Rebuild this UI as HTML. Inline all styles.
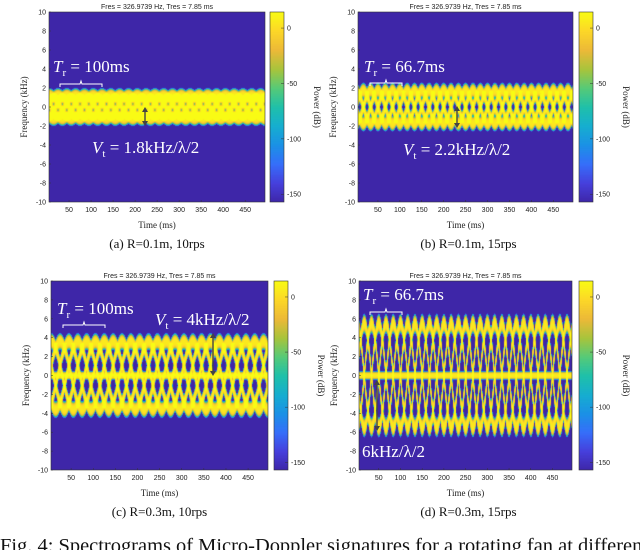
<!DOCTYPE html>
<html><head><meta charset="utf-8">
<style>
html,body{margin:0;padding:0;background:#fff;width:640px;height:550px;overflow:hidden;position:relative}
canvas{position:absolute;z-index:1}
svg{position:absolute;left:0;top:0;z-index:2}
.tk{font:7px "Liberation Sans",sans-serif;fill:#222}
.ax{font:9px "Liberation Serif",serif;fill:#222}
.cap{font:13px "Liberation Serif",serif;fill:#111}
.ann{font:17px "Liberation Serif",serif;fill:#fff}
</style></head>
<body>
<div id="root"></div>
<svg id="ov" width="640" height="550"></svg>
<script>
// data per panel
const panelIds = ['a','b','c','d'];
const periodsMs = [100, 66.7, 100, 66.7];
const maxDopplerKHz = [1.25, 1.75, 3.6, 5.5];
const bladeCount = [5, 4, 5, 4];
const traceWidthKHz = [0.5, 0.55, 0.6, 0.7];
const hubLine = [false, false, true, true];
const captions = ['(a) R=0.1m, 10rps','(b) R=0.1m, 15rps','(c) R=0.3m, 10rps','(d) R=0.3m, 15rps'];
const yTicks = [-10,-8,-6,-4,-2,0,2,4,6,8,10];
const xTicks = [50,100,150,200,250,300,350,400,450];
const cbTicks = [0,-50,-100,-150];
const timeDomain = [4.5, 495];
const freqDomain = [-10, 10];
const dbDomain = [-157, 14.5];

const boxes = [
 {x:49,y:12,w:216,h:190,cb:270},
 {x:358,y:12,w:215,h:190,cb:579},
 {x:51,y:281,w:217,h:189,cb:274},
 {x:359,y:281,w:213,h:189,cb:579}
];
const parula = [[62,38,168],[70,64,220],[54,110,250],[27,145,230],[22,174,208],[31,192,170],[86,202,120],[168,196,60],[236,185,56],[252,215,40],[249,251,20]];
function cmap(v){v=Math.max(0,Math.min(1,v));const p=v*(parula.length-1);const i=Math.min(parula.length-2,Math.floor(p));const f=p-i;
 return parula[i].map((c,k)=>Math.round(c+(parula[i+1][k]-c)*f));}

const NS='http://www.w3.org/2000/svg';
const ov=document.getElementById('ov');
function el(tag,attrs,txt,parent){const e=document.createElementNS(NS,tag);for(const k in attrs)e.setAttribute(k,attrs[k]);if(txt!=null)e.textContent=txt;(parent||ov).appendChild(e);return e;}

panelIds.forEach((pid,pi)=>{
 const b=boxes[pi];
 const sx=t=>b.x+(t-timeDomain[0])/(timeDomain[1]-timeDomain[0])*b.w;
 const sy=f=>b.y+b.h-(f-freqDomain[0])/(freqDomain[1]-freqDomain[0])*b.h;
 const cv=document.createElement('canvas');cv.width=b.w;cv.height=b.h;cv.style.left=b.x+'px';cv.style.top=b.y+'px';
 
 
 document.body.appendChild(cv);
 const ctx=cv.getContext('2d');const img=ctx.createImageData(b.w,b.h);
 const A=maxDopplerKHz[pi],T=periodsMs[pi],N=bladeCount[pi],s=traceWidthKHz[pi];
 for(let px=0;px<b.w;px++){
  const t=timeDomain[0]+(px+0.5)/b.w*(timeDomain[1]-timeDomain[0]);
  const fs=[];for(let k=0;k<N;k++)fs.push(A*Math.sin(2*Math.PI*t/T+2*Math.PI*k/N));
  for(let py=0;py<b.h;py++){
   const f=freqDomain[1]-(py+0.5)/b.h*(freqDomain[1]-freqDomain[0]);
   let sum=0;
   fs.forEach(fk=>{const d=(f-fk)/s;sum+=Math.exp(-d*d*d*d);});
   if(hubLine[pi]){const d=f/0.3;sum+=Math.exp(-d*d*d*d);}
   let v;
   if(sum<1e-6)v=0;else v=Math.max(0,1+Math.log10(sum)/2.5);
   v=Math.min(1,v*0.95+(sum>1?0.05:0));
   const c=cmap(v);const o=(py*b.w+px)*4;
   img.data[o]=c[0];img.data[o+1]=c[1];img.data[o+2]=c[2];img.data[o+3]=255;
  }
 }
 ctx.putImageData(img,0,0);
 const cb=document.createElement('canvas');cb.width=14;cb.height=b.h;cb.style.left=b.cb+'px';cb.style.top=b.y+'px';
 
 
 document.body.appendChild(cb);
 const c2=cb.getContext('2d');for(let y=0;y<b.h;y++){const c=cmap(1-y/b.h);c2.fillStyle='rgb('+c+')';c2.fillRect(0,y,14,1);}
 const g=el('g',{});
 
 
 el('rect',{x:b.x,y:b.y,width:b.w,height:b.h,fill:'none',stroke:'#333','stroke-width':0.6},null,g);
 el('rect',{x:b.cb,y:b.y,width:14,height:b.h,fill:'none',stroke:'#333','stroke-width':0.6},null,g);
 const cy=db=>b.y+(dbDomain[1]-db)/(dbDomain[1]-dbDomain[0])*b.h;
 cbTicks.forEach(v=>{el('line',{x1:b.cb+11,x2:b.cb+14,y1:cy(v),y2:cy(v),stroke:'#333','stroke-width':0.5},null,g);
  el('text',{x:b.cb+17,y:cy(v)+2.5,class:'tk'},String(v),g);});
 yTicks.forEach(v=>{el('line',{x1:b.x,x2:b.x+2,y1:sy(v),y2:sy(v),stroke:'#333','stroke-width':0.5},null,g);
  el('text',{x:b.x-3,y:sy(v)+2.5,class:'tk','text-anchor':'end'},String(v),g);});
 xTicks.forEach(v=>{el('line',{x1:sx(v),x2:sx(v),y1:b.y+b.h,y2:b.y+b.h-2,stroke:'#333','stroke-width':0.5},null,g);
  el('text',{x:sx(v),y:b.y+b.h+10,class:'tk','text-anchor':'middle'},String(v),g);});
 el('text',{x:b.x+b.w/2,y:b.y-3,class:'tk','text-anchor':'middle'},'Fres = 326.9739 Hz, Tres = 7.85 ms',g);
 el('text',{x:b.x+b.w/2,y:b.y+b.h+26,class:'ax','text-anchor':'middle'},'Time (ms)',g);
 el('text',{x:0,y:0,class:'ax','text-anchor':'middle',transform:`translate(${b.x-22},${b.y+b.h/2}) rotate(-90)`},'Frequency (kHz)',g);
 el('text',{x:0,y:0,class:'ax','text-anchor':'middle',transform:`translate(${b.cb+44},${b.y+b.h/2}) rotate(90)`},'Power (dB)',g);
 el('text',{x:b.x+b.w/2+(pi%2?3:0),y:b.y+b.h+46,class:'cap','text-anchor':'middle'},captions[pi],g);
});

function bracket(x1,x2,y){const m=(x1+x2)/2;
 el('path',{d:`M${x1},${y+5} L${x1},${y+2} L${m-1},${y+2} L${m},${y-1} L${m+1},${y+2} L${x2},${y+2} L${x2},${y+5}`,fill:'none',stroke:'#fff','stroke-width':1});}
function arrow(x,y1,y2){el('line',{x1:x,x2:x,y1:y1+3,y2:y2-3,stroke:'#444','stroke-width':1.4});
 el('path',{d:`M${x-3},${y1+5} L${x},${y1} L${x+3},${y1+5}Z M${x-3},${y2-5} L${x},${y2} L${x+3},${y2-5}Z`,fill:'#444'});}
function tr(x,y,txt){const t=el('text',{x:x,y:y,class:'ann'});
 const a=document.createElementNS(NS,'tspan');a.setAttribute('font-style','italic');a.textContent='T';t.appendChild(a);
 const b=document.createElementNS(NS,'tspan');b.setAttribute('font-size','11');b.setAttribute('dy','4');b.textContent='r';t.appendChild(b);
 const c=document.createElementNS(NS,'tspan');c.setAttribute('dy','-4');c.textContent=' = '+txt;t.appendChild(c);
 }
function vt(x,y,txt){const t=el('text',{x:x,y:y,class:'ann'});
 const a=document.createElementNS(NS,'tspan');a.setAttribute('font-style','italic');a.textContent='V';t.appendChild(a);
 const b=document.createElementNS(NS,'tspan');b.setAttribute('font-size','11');b.setAttribute('dy','4');b.textContent='t';t.appendChild(b);
 const c=document.createElementNS(NS,'tspan');c.setAttribute('dy','-4');c.textContent=' = '+txt;t.appendChild(c);
 }
tr(53,72,'100ms');bracket(60,102,82);vt(92,153,'1.8kHz/λ/2');arrow(145,107,126);
tr(364,72,'66.7ms');bracket(370,402,81);vt(403,155,'2.2kHz/λ/2');arrow(457,106,128);
tr(57,314,'100ms');bracket(63,105,323);vt(155,325,'4kHz/λ/2');arrow(213,333,376);
tr(363,300,'66.7ms');bracket(370,402,310);
el('text',{x:362,y:457,class:'ann'},'6kHz/λ/2');arrow(377,380,431);
const fc=el('text',{x:0,y:552,class:'cap',textLength:'648',lengthAdjust:'spacingAndGlyphs'},'Fig. 4: Spectrograms of Micro-Doppler signatures for a rotating fan at different');
fc.setAttribute('style','font-size:20px');


</script>
</body></html>
